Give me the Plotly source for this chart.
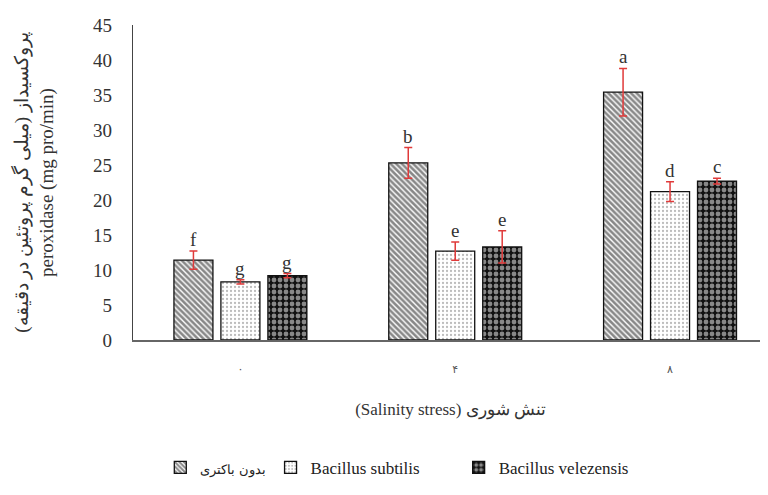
import plotly.graph_objects as go

categories = ["۰", "۴", "۸"]
series_names = ["<span style='font-size:13px'>بدون باکتری</span>",
                "Bacillus subtilis" + "\u00a0" * 8,
                "Bacillus velezensis"]
control = [11.4, 25.3, 35.4]
subtilis = [8.3, 12.7, 21.2]
velezensis = [9.2, 13.3, 22.7]
err_control = [1.3, 2.2, 3.4]
err_subtilis = [0.3, 1.3, 1.4]
err_velezensis = [0.3, 2.3, 0.4]
letters_control = ["f", "b", "a"]
letters_subtilis = ["g", "e", "d"]
letters_velezensis = ["g", "e", "c"]
yticks = [0, 5, 10, 15, 20, 25, 30, 35, 40, 45]

SERIF = "Liberation Serif, Times New Roman, DejaVu Serif, serif"
RED = "#e03a3a"

patterns = [
    dict(shape="\\", fgcolor="#111111", bgcolor="#ffffff", size=4, solidity=0.65),
    dict(shape=".", fgcolor="#777777", bgcolor="#ffffff", size=4, solidity=0.25),
    dict(shape=".", fgcolor="#ffffff", bgcolor="#111111", size=6, solidity=0.5),
]

fig = go.Figure()
data = [control, subtilis, velezensis]
errs = [err_control, err_subtilis, err_velezensis]
letters = [letters_control, letters_subtilis, letters_velezensis]

for i in range(3):
    fig.add_trace(go.Bar(
        x=categories, y=data[i], name=series_names[i],
        marker=dict(color="white", pattern=patterns[i],
                    line=dict(color="#111111", width=1.3)),
        error_y=dict(type="data", array=errs[i], visible=True,
                     color=RED, thickness=1.5, width=4),
    ))

offsets = [-1, 0, 1]
for i in range(3):
    for j, cat in enumerate(categories):
        fig.add_annotation(
            x=cat, y=data[i][j] + errs[i][j], xref="x", yref="y",
            text=letters[i][j], showarrow=False, yanchor="bottom",
            xshift=offsets[i] * 47, yshift=-1,
            font=dict(family=SERIF, size=19, color="#333333"),
        )

fig.update_layout(
    width=760, height=487,
    margin=dict(l=125, r=0, t=17, b=155, autoexpand=False),
    plot_bgcolor="white", paper_bgcolor="white",
    barmode="group", bargap=0.344, bargroupgap=0.17,
    showlegend=True,
    legend=dict(orientation="h", x=0.043, y=-0.406, xanchor="left", yanchor="middle",
                font=dict(family=SERIF, size=17, color="#222222"),
                itemwidth=30, tracegroupgap=0),
    xaxis=dict(
        range=[-0.5, 2.456], showline=True, linecolor="#666666", linewidth=1.5,
        ticks="", ticklabelstandoff=18, automargin=False,
        tickfont=dict(family="DejaVu Sans, sans-serif", size=11, color="#555555"),
        title=dict(text="(Salinity stress) تنش شوری", standoff=28,
                   font=dict(family=SERIF, size=17, color="#333333")),
    ),
    yaxis=dict(
        range=[0, 45], tickvals=yticks, showline=True, linecolor="#444444", linewidth=1.3,
        showgrid=False, zeroline=False, ticks="", ticklabelstandoff=16, automargin=False,
        tickfont=dict(family=SERIF, size=19, color="#333333"),
        title=dict(text="پروکسیداز (میلی گرم پروتئین در دقیقه)\u200F<br>peroxidase (mg pro/min)",
                   standoff=34, font=dict(family=SERIF, size=19, color="#333333")),
    ),
)

fig.write_html("out.html")
